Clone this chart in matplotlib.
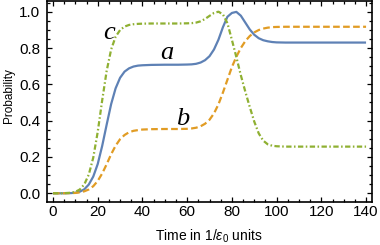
import matplotlib
matplotlib.use("Agg")
import matplotlib.pyplot as plt
from matplotlib import font_manager
from matplotlib.ticker import MultipleLocator

# ---------------- Data ---------------- #

time = [0, 4, 8, 10, 12, 14, 16, 18, 20, 22, 24, 26, 28, 30, 32, 34, 36, 38, 40, 44,
        50, 56, 60, 62, 64, 66, 68, 70, 72, 74, 76, 78, 80, 82, 84, 86, 88, 90, 92, 94,
        96, 98, 100, 104, 110, 120, 130, 140]

prob_a = [0, 0, 0.001, 0.003, 0.009, 0.022, 0.048, 0.092, 0.161, 0.261, 0.378, 0.491,
          0.578, 0.636, 0.670, 0.688, 0.698, 0.703, 0.705, 0.707, 0.708, 0.708, 0.709,
          0.710, 0.713, 0.720, 0.733, 0.755, 0.792, 0.846, 0.915, 0.972, 0.993, 0.999,
          0.978, 0.940, 0.902, 0.873, 0.854, 0.843, 0.837, 0.833, 0.831, 0.830, 0.830,
          0.830, 0.830, 0.830]

prob_b = [0, 0, 0.001, 0.002, 0.005, 0.011, 0.021, 0.039, 0.068, 0.109, 0.160, 0.215,
          0.262, 0.298, 0.321, 0.336, 0.344, 0.348, 0.351, 0.353, 0.354, 0.354, 0.355,
          0.357, 0.361, 0.369, 0.383, 0.405, 0.440, 0.490, 0.555, 0.625, 0.695, 0.752,
          0.800, 0.838, 0.866, 0.886, 0.899, 0.907, 0.912, 0.915, 0.916, 0.917, 0.917,
          0.917, 0.917, 0.917]

prob_c = [0, 0, 0.003, 0.008, 0.021, 0.049, 0.103, 0.196, 0.338, 0.512, 0.674, 0.792,
          0.862, 0.899, 0.918, 0.927, 0.931, 0.933, 0.934, 0.935, 0.935, 0.935, 0.936,
          0.937, 0.940, 0.947, 0.960, 0.977, 0.993, 1.000, 0.985, 0.937, 0.845, 0.750,
          0.650, 0.560, 0.475, 0.395, 0.330, 0.290, 0.270, 0.262, 0.259, 0.257, 0.257,
          0.257, 0.257, 0.257]

curve_labels = ["a", "b", "c"]
label_pos = [(50.8, 0.740), (57.9, 0.376), (24.9, 0.850)]

# ---------------- Plot ---------------- #

# the reference uses a narrow sans; use one if it is installed
installed = {f.name for f in font_manager.fontManager.ttflist}
sans = 'Liberation Sans Narrow' if 'Liberation Sans Narrow' in installed else 'Liberation Sans'
narrow = sans != 'Liberation Sans'

plt.rcParams['font.family'] = [sans, 'DejaVu Sans']
plt.rcParams['mathtext.fontset'] = 'custom'
plt.rcParams['mathtext.rm'] = sans
plt.rcParams['mathtext.it'] = sans + ':italic'

fig = plt.figure(figsize=(3.8, 2.45), dpi=100)
ax = fig.add_axes([0.1224, 0.1743, 0.8556, 0.8217])

lw = 1.6
ax.plot(time, prob_a, color='#5E81B5', lw=lw, solid_capstyle='butt')
ax.plot(time, prob_b, color='#E19C24', lw=lw, dashes=(3.0, 1.5))
ax.plot(time, prob_c, color='#8FB032', lw=lw, dashes=(2.4, 1.1, 0.7, 1.1))

for name, (x, y) in zip(curve_labels, label_pos):
    ax.text(x, y, name, ha='center', va='baseline', fontsize=19,
            family='Liberation Serif', style='italic')

ax.set_xlim(-2.9, 142.5)
ax.set_ylim(-0.0496, 1.059)

ax.xaxis.set_major_locator(MultipleLocator(20))
ax.xaxis.set_minor_locator(MultipleLocator(5))
ax.yaxis.set_major_locator(MultipleLocator(0.2))
ax.yaxis.set_minor_locator(MultipleLocator(0.05))
ax.yaxis.set_major_formatter(plt.FuncFormatter(lambda v, p: f"{v:.1f}"))

ax.tick_params(which='both', direction='in', top=True, right=True, width=0.9)
ax.tick_params(which='major', length=3.8, labelsize=12.5 if narrow else 11)
ax.tick_params(which='minor', length=2.2)
ax.tick_params(axis='x', pad=2)
ax.tick_params(axis='y', pad=4.5)

for s in ax.spines.values():
    s.set_linewidth(1.2)

ax.set_xlabel(r"Time in 1/$\varepsilon_0$ units", fontsize=11 if narrow else 10)
ax.set_ylabel("Probability", fontsize=10.5 if narrow else 8.5)
ax.xaxis.set_label_coords(0.5, -0.128)
ax.yaxis.set_label_coords(-0.097, 0.53)

fig.savefig("out.png", dpi=100)
